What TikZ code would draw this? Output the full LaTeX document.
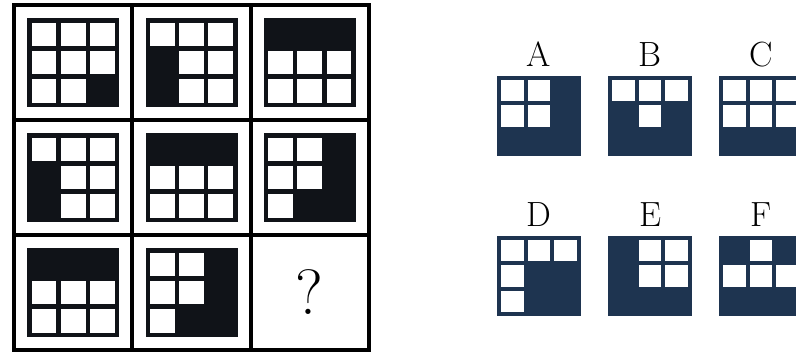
\documentclass[tikz,border=0pt]{standalone}
\usepackage{fontspec}
\usepackage{tikz}
\usetikzlibrary{positioning}
\definecolor{ink}{HTML}{101318}
\definecolor{navy}{HTML}{1E3450}
\newcommand{\holes}[5]{%
  \begin{scope}[shift={(#1.north west)}]
    \foreach \hx/\hy in {#5}
      \fill[white] ({#4+(\hx-1)*(#2-#4)/3},{#4+(\hy-1)*(#3-#4)/3}) rectangle ++({(#2-#4)/3-#4},{(#3-#4)/3-#4});
  \end{scope}}

\begin{document}
\begin{tikzpicture}[x=1pt,y=-1pt,
  cell/.style={draw=black,line width=3.8pt,minimum width=118.3pt,minimum height=115pt,inner sep=0pt,outer sep=0pt,font=\fontsize{64}{64}\selectfont},
  pat/.style={fill=ink,minimum width=92pt,minimum height=89pt,inner sep=0pt,outer sep=0pt},
  opt/.style={fill=navy,minimum width=84pt,minimum height=80pt,inner sep=0pt,outer sep=0pt},
  lbl/.style={font=\fontsize{35}{35}\selectfont,inner sep=0pt},
]
\useasboundingbox (0,0) rectangle (796,356);
\clip (0,0) rectangle (796,356);

\node[cell] at (73.2,62.5) (c11) {};
\node[cell,right=0pt of c11] (c12) {};
\node[cell,right=0pt of c12] (c13) {};
\node[cell,below=0pt of c11] (c21) {};
\node[cell,right=0pt of c21] (c22) {};
\node[cell,right=0pt of c22] (c23) {};
\node[cell,below=0pt of c21] (c31) {};
\node[cell,right=0pt of c31] (c32) {};
\node[cell,right=0pt of c32] (c33) {\raisebox{-4pt}{?}};

\node[pat] at (c11) (p11) {};
\node[pat] at (c12) (p12) {};
\node[pat] at (c13) (p13) {};
\node[pat] at (c21) (p21) {};
\node[pat] at (c22) (p22) {};
\node[pat] at (c23) (p23) {};
\node[pat] at (c31) (p31) {};
\node[pat] at (c32) (p32) {};
\holes{p11}{92}{89}{4.5}{1/1,2/1,3/1,1/2,2/2,3/2,1/3,2/3}
\holes{p12}{92}{89}{4.5}{1/1,2/1,3/1,2/2,3/2,2/3,3/3}
\holes{p13}{92}{89}{4.5}{1/2,2/2,3/2,1/3,2/3,3/3}
\holes{p21}{92}{89}{4.5}{1/1,2/1,3/1,2/2,3/2,2/3,3/3}
\holes{p22}{92}{89}{4.5}{1/2,2/2,3/2,1/3,2/3,3/3}
\holes{p23}{92}{89}{4.5}{1/1,2/1,1/2,2/2,1/3}
\holes{p31}{92}{89}{4.5}{1/2,2/2,3/2,1/3,2/3,3/3}
\holes{p32}{92}{89}{4.5}{1/1,2/1,1/2,2/2,1/3}

\node[opt] at (539,116) (oA) {};
\node[opt,right=27pt of oA] (oB) {};
\node[opt,right=27pt of oB] (oC) {};
\node[opt,below=80pt of oA] (oD) {};
\node[opt,right=27pt of oD] (oE) {};
\node[opt,right=27pt of oE] (oF) {};
\holes{oA}{84}{80}{4}{1/1,2/1,1/2,2/2}
\holes{oB}{84}{80}{4}{1/1,2/1,3/1,2/2}
\holes{oC}{84}{80}{4}{1/1,2/1,3/1,1/2,2/2,3/2}
\holes{oD}{84}{80}{4}{1/1,2/1,3/1,1/2,1/3}
\holes{oE}{84}{80}{4}{2/1,3/1,2/2,3/2}
\holes{oF}{84}{80}{4}{2/1,1/2,2/2,3/2}

\node[lbl,above=9pt of oA] (lA) {A};
\node[lbl,above=9pt of oB] (lB) {B};
\node[lbl,above=9pt of oC] (lC) {C};
\node[lbl,above=9pt of oD] (lD) {D};
\node[lbl,above=9pt of oE] (lE) {E};
\node[lbl,above=9pt of oF] (lF) {F};
\end{tikzpicture}
\end{document}
